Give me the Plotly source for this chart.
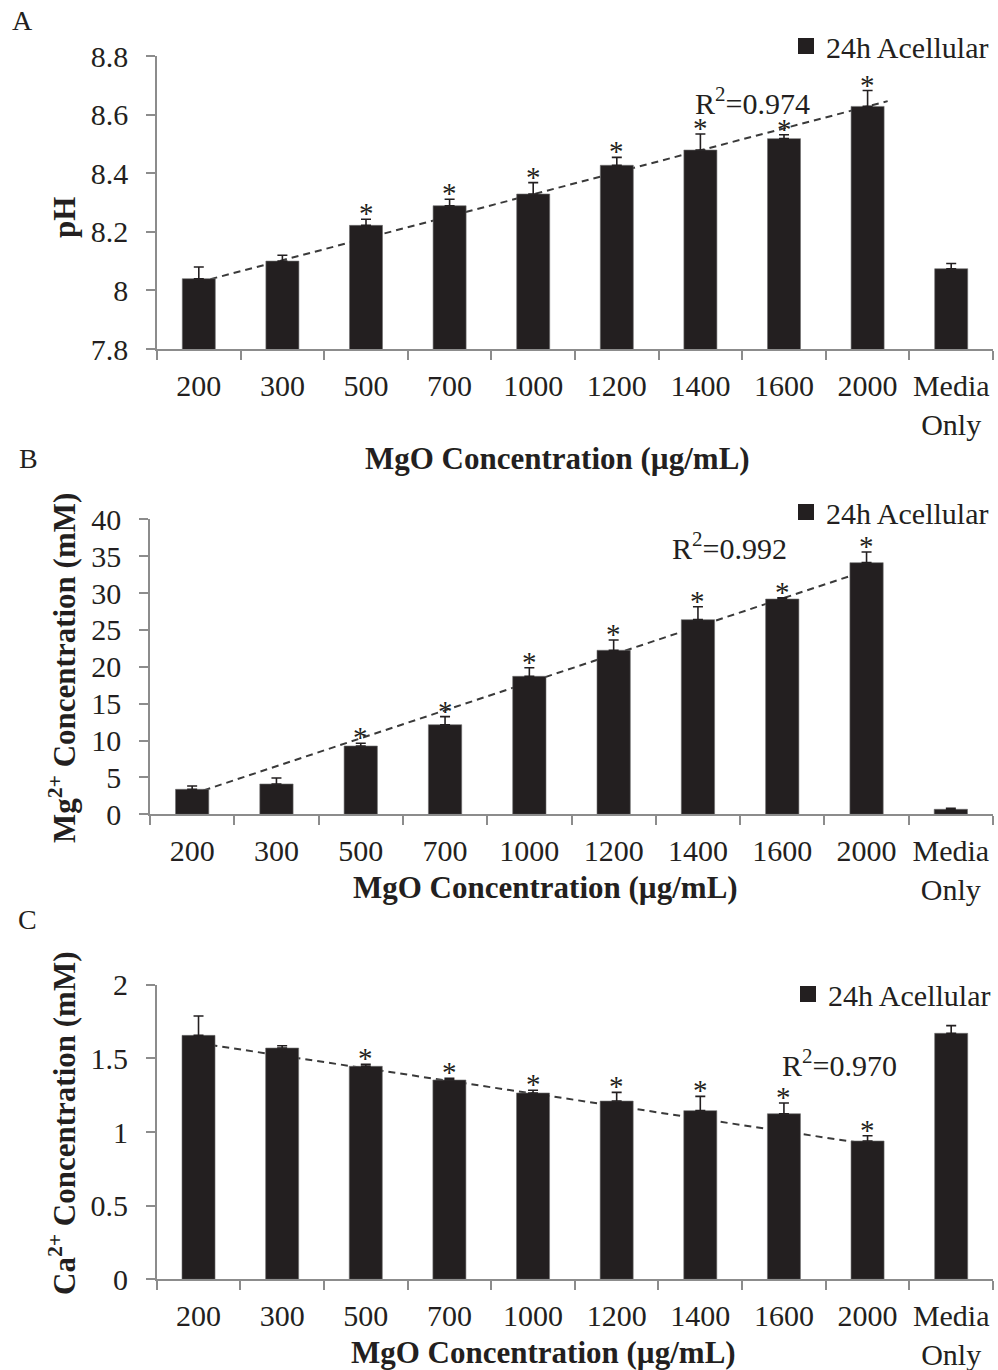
import plotly.graph_objects as go

# ---- data ----
categories = ["200", "300", "500", "700", "1000", "1200", "1400", "1600", "2000", "Media<br>Only"]

ph_mean = [8.04, 8.10, 8.222, 8.289, 8.329, 8.427, 8.479, 8.518, 8.628, 8.074]
ph_err = [0.04, 0.02, 0.021, 0.022, 0.039, 0.027, 0.055, 0.013, 0.054, 0.018]
ph_sig = [False, False, True, True, True, True, True, True, True, False]

mg_mean = [3.39, 4.11, 9.26, 12.15, 18.71, 22.24, 26.39, 29.19, 34.12, 0.68]
mg_err = [0.45, 0.81, 0.37, 1.09, 1.17, 1.39, 1.76, 0.18, 1.45, 0.13]
mg_sig = [False, False, True, True, True, True, True, True, True, False]

ca_mean = [1.656, 1.570, 1.446, 1.353, 1.265, 1.210, 1.145, 1.124, 0.939, 1.670]
ca_err = [0.131, 0.016, 0.013, 0.011, 0.018, 0.059, 0.097, 0.073, 0.036, 0.052]
ca_sig = [False, False, True, True, True, True, True, True, True, False]

# linear trendlines (start/end in category-index units and value units)
ph_trend_x, ph_trend_y = [1.0, 9.24], [8.028, 8.646]
mg_trend_x, mg_trend_y = [1.0, 9.0], [2.73, 33.05]
ca_trend_x, ca_trend_y = [1.0, 9.22], [1.603, 0.900]

r2_labels = ["R<sup>2</sup>=0.974", "R<sup>2</sup>=0.992", "R<sup>2</sup>=0.970"]

ph_ticks = [7.8, 8.0, 8.2, 8.4, 8.6, 8.8]
ph_ticktext = ["7.8", "8", "8.2", "8.4", "8.6", "8.8"]
mg_ticks = [0, 5, 10, 15, 20, 25, 30, 35, 40]
mg_ticktext = ["0", "5", "10", "15", "20", "25", "30", "35", "40"]
ca_ticks = [0, 0.5, 1.0, 1.5, 2.0]
ca_ticktext = ["0", "0.5", "1", "1.5", "2"]

series_name = "24h Acellular"
x_title = "MgO Concentration (µg/mL)"

# ---- styling ----
W, H = 998, 1370
FONT = "Liberation Serif, Times New Roman, serif"
BAR = "#231f20"
AXIS = "#8c8c8c"
TXT = "#231f20"

pos = list(range(1, len(categories) + 1))
bounds = [p - 0.5 for p in pos] + [pos[-1] + 0.5]


def px(x):
    return x / W


def py(y):
    return 1 - y / H


panels = [
    dict(mean=ph_mean, err=ph_err, sig=ph_sig, tx=ph_trend_x, ty=ph_trend_y,
         ticks=ph_ticks, ticktext=ph_ticktext, rng=[7.8, 8.8],
         xdom=[px(157), px(993)], ydom=[py(349), py(56)],
         ytitle="pH", ytitle_xy=(65, 218), xtitle_xy=(557, 459),
         r2=r2_labels[0], r2_xy=(752, 101), legend_xy=(994, 46),
         letter="A", letter_xy=(22, 21)),
    dict(mean=mg_mean, err=mg_err, sig=mg_sig, tx=mg_trend_x, ty=mg_trend_y,
         ticks=mg_ticks, ticktext=mg_ticktext, rng=[0, 40],
         xdom=[px(150), px(993)], ydom=[py(814.3), py(519.3)],
         ytitle="Mg<sup>2+</sup> Concentration (mM)", ytitle_xy=(62, 668),
         xtitle_xy=(545, 887),
         r2=r2_labels[1], r2_xy=(729, 546), legend_xy=(994, 512),
         letter="B", letter_xy=(28, 459)),
    dict(mean=ca_mean, err=ca_err, sig=ca_sig, tx=ca_trend_x, ty=ca_trend_y,
         ticks=ca_ticks, ticktext=ca_ticktext, rng=[0, 2],
         xdom=[px(156.7), px(993)], ydom=[py(1279.3), py(984.7)],
         ytitle="Ca<sup>2+</sup> Concentration (mM)", ytitle_xy=(62, 1124),
         xtitle_xy=(543, 1352),
         r2=r2_labels[2], r2_xy=(839, 1063), legend_xy=(996, 994),
         letter="C", letter_xy=(27, 919)),
]

fig = go.Figure()
annotations = []
shapes = []
layout = {}

for i, p in enumerate(panels):
    n = "" if i == 0 else str(i + 1)
    xa, ya = "x" + n, "y" + n
    leg = "legend" + n

    fig.add_trace(go.Bar(
        x=pos, y=p["mean"], width=0.395, xaxis=xa, yaxis=ya,
        name=series_name, showlegend=False,
        marker=dict(color=BAR, line=dict(color="#6e6e6e", width=0.6)),
        error_y=dict(type="data", symmetric=False, array=p["err"],
                     arrayminus=[0] * len(p["err"]),
                     color=BAR, thickness=1.6, width=5),
    ))
    # legend entry for the bar series
    fig.add_trace(go.Scatter(
        x=[None], y=[None], xaxis=xa, yaxis=ya, mode="markers",
        name=series_name, legend=leg, showlegend=True,
        marker=dict(symbol="square", size=16, color=BAR),
    ))

    layout["xaxis" + n] = dict(
        domain=p["xdom"], anchor=ya, range=[0.5, len(pos) + 0.5],
        automargin=False,
        tickvals=pos, ticktext=categories, ticks="",
        ticklabelstandoff=9,
        tickfont=dict(family=FONT, size=30, color=TXT),
        showline=True, linecolor=AXIS, linewidth=1.5,
        showgrid=False, zeroline=False, fixedrange=True,
        minor=dict(tickvals=bounds, ticks="outside", ticklen=9,
                   tickcolor=AXIS, tickwidth=1.5, showgrid=False),
    )
    layout["yaxis" + n] = dict(
        domain=p["ydom"], anchor=xa, range=p["rng"],
        automargin=False,
        tickvals=p["ticks"], ticktext=p["ticktext"],
        ticks="outside", ticklen=9, tickcolor=AXIS, tickwidth=1.5,
        ticklabelstandoff=12,
        tickfont=dict(family=FONT, size=30, color=TXT),
        showline=True, linecolor=AXIS, linewidth=1.5,
        showgrid=False, zeroline=False, fixedrange=True,
    )
    lx, ly = p["legend_xy"]
    layout[leg] = dict(
        x=px(lx), y=py(ly), xanchor="right", yanchor="middle",
        bgcolor="rgba(0,0,0,0)", borderwidth=0, itemwidth=30,
        font=dict(family=FONT, size=30, color=TXT),
    )

    # dashed linear trendline, drawn beneath the bars
    shapes.append(dict(
        type="line", xref=xa, yref=ya, layer="below",
        x0=p["tx"][0], y0=p["ty"][0], x1=p["tx"][1], y1=p["ty"][1],
        line=dict(color="#3a3a3a", width=2, dash="7px,5px"),
    ))

    # significance markers above the error bars
    for xi, m, e, s in zip(pos, p["mean"], p["err"], p["sig"]):
        if s:
            annotations.append(dict(
                x=xi, y=m + e, xref=xa, yref=ya, text="*", showarrow=False,
                yanchor="bottom", yshift=-12,
                font=dict(family=FONT, size=29, color=TXT),
            ))

    rx, ry = p["r2_xy"]
    annotations.append(dict(
        x=px(rx), y=py(ry), xref="paper", yref="paper", text=p["r2"],
        showarrow=False, xanchor="center", yanchor="middle",
        font=dict(family=FONT, size=30, color=TXT),
    ))
    tx, ty = p["xtitle_xy"]
    annotations.append(dict(
        x=px(tx), y=py(ty), xref="paper", yref="paper", text=x_title,
        showarrow=False, xanchor="center", yanchor="middle",
        font=dict(family=FONT, size=31, color=TXT, weight="bold"),
    ))
    yx, yy = p["ytitle_xy"]
    annotations.append(dict(
        x=px(yx), y=py(yy), xref="paper", yref="paper", text=p["ytitle"],
        showarrow=False, xanchor="center", yanchor="middle", textangle=-90,
        font=dict(family=FONT, size=31, color=TXT, weight="bold"),
    ))
    ax_, ay_ = p["letter_xy"]
    annotations.append(dict(
        x=px(ax_), y=py(ay_), xref="paper", yref="paper", text=p["letter"],
        showarrow=False, xanchor="center", yanchor="middle",
        font=dict(family=FONT, size=28, color=TXT),
    ))

fig.update_layout(
    width=W, height=H, margin=dict(l=0, r=0, t=0, b=0, autoexpand=False),
    paper_bgcolor="white", plot_bgcolor="white",
    font=dict(family=FONT, color=TXT),
    annotations=annotations, shapes=shapes, bargap=0.6,
    **layout,
)

fig.write_html("out.html")
